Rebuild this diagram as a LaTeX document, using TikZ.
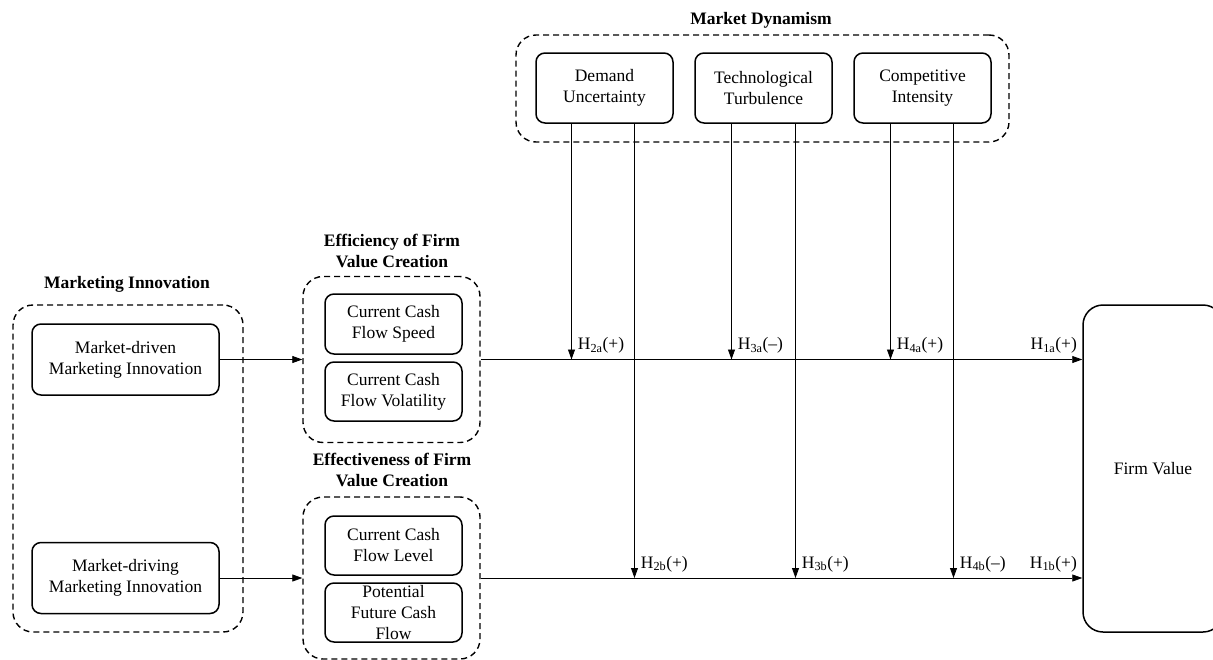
\documentclass[tikz,border=0pt]{standalone}
\usepackage{fontspec}
\setmainfont{Liberation Serif}
\usetikzlibrary{arrows.meta}

\newcommand{\figfont}{\fontsize{17.5}{21}\selectfont\rmfamily}
\tikzstyle{box} = [draw, line width=1.5pt, rounded corners=9pt, align=center, inner sep=0pt, minimum width=137pt]
\tikzstyle{group} = [draw, line width=1.4pt, dash pattern=on 6pt off 4pt, rounded corners=20pt, inner sep=0pt]
\tikzstyle{head} = [font=\figfont\bfseries, align=center]
\tikzstyle{link} = [line width=0.8pt, -{Triangle[length=10pt,width=7pt]}]
\tikzstyle{hyp} = [anchor=base west, inner sep=0pt, xshift=6pt, yshift=10pt]
\tikzstyle{hypend} = [anchor=base east, inner sep=0pt, xshift=-5pt, yshift=10pt]

\begin{document}
\begin{tikzpicture}[x=1pt, y=-1pt, font=\figfont]
\clip (0,0) rectangle (1213,659);

\node[head] (mit) at (127,284) {Marketing Innovation};
\node[group, minimum width=230pt, minimum height=327pt] (mig) at (128,468.5) {};
\node[box, minimum width=187pt, minimum height=71pt] (drv) at (125.5,359.5) {Market-driven\\Marketing Innovation};
\node[box, minimum width=187pt, minimum height=71pt] (drg) at (125.5,578) {Market-driving\\Marketing Innovation};

\node[head] (efft) at (392,251) {Efficiency of Firm\\Value Creation};
\node[group, minimum width=177pt, minimum height=166pt] (effg) at (391.5,359.5) {};
\node[box, minimum height=60pt] (spd) at (393.5,324) {Current Cash\\Flow Speed};
\node[box, minimum height=59pt] (vol) at (393.5,391.5) {Current Cash\\Flow Volatility};

\node[head] (efct) at (392,470) {Effectiveness of Firm\\Value Creation};
\node[group, minimum width=177pt, minimum height=162pt] (efcg) at (391.5,578) {};
\node[box, minimum height=59pt] (lvl) at (393.5,545.5) {Current Cash\\Flow Level};
\node[box, minimum height=59pt] (pot) at (393.5,612.5) {Potential\\Future Cash\\Flow};

\node[head] (mdt) at (761,20) {Market Dynamism};
\node[group, minimum width=493pt, minimum height=107pt] (mdg) at (762.5,88.5) {};
\node[box, minimum height=70pt] (dem) at (604.5,88) {Demand\\Uncertainty};
\node[box, minimum height=70pt] (tech) at (763.5,88) {Technological\\Turbulence};
\node[box, minimum height=70pt] (comp) at (922.5,88) {Competitive\\Intensity};

\node[box, rounded corners=20pt, minimum width=140pt, minimum height=327pt] (firm) at (1153,468.5) {Firm Value};

\draw[link] (drv.east) -- (drv.east -| effg.west);
\draw[link] (drg.east) -- (drg.east -| efcg.west);
\draw[link] (effg.east) -- (effg.east -| firm.west) node[hypend] {H\textsubscript{1a}(+)};
\draw[link] (efcg.east) -- (efcg.east -| firm.west) node[hypend] {H\textsubscript{1b}(+)};

\draw[link] ([xshift=-33pt]dem.south) -- ([xshift=-33pt]dem.south |- effg.east) node[hyp] {H\textsubscript{2a}(+)};
\draw[link] ([xshift=30pt]dem.south) -- ([xshift=30pt]dem.south |- efcg.east) node[hyp] {H\textsubscript{2b}(+)};
\draw[link] ([xshift=-32pt]tech.south) -- ([xshift=-32pt]tech.south |- effg.east) node[hyp] {H\textsubscript{3a}(\textendash)};
\draw[link] ([xshift=32pt]tech.south) -- ([xshift=32pt]tech.south |- efcg.east) node[hyp] {H\textsubscript{3b}(+)};
\draw[link] ([xshift=-32pt]comp.south) -- ([xshift=-32pt]comp.south |- effg.east) node[hyp] {H\textsubscript{4a}(+)};
\draw[link] ([xshift=31pt]comp.south) -- ([xshift=31pt]comp.south |- efcg.east) node[hyp] {H\textsubscript{4b}(\textendash)};
\end{tikzpicture}
\end{document}
